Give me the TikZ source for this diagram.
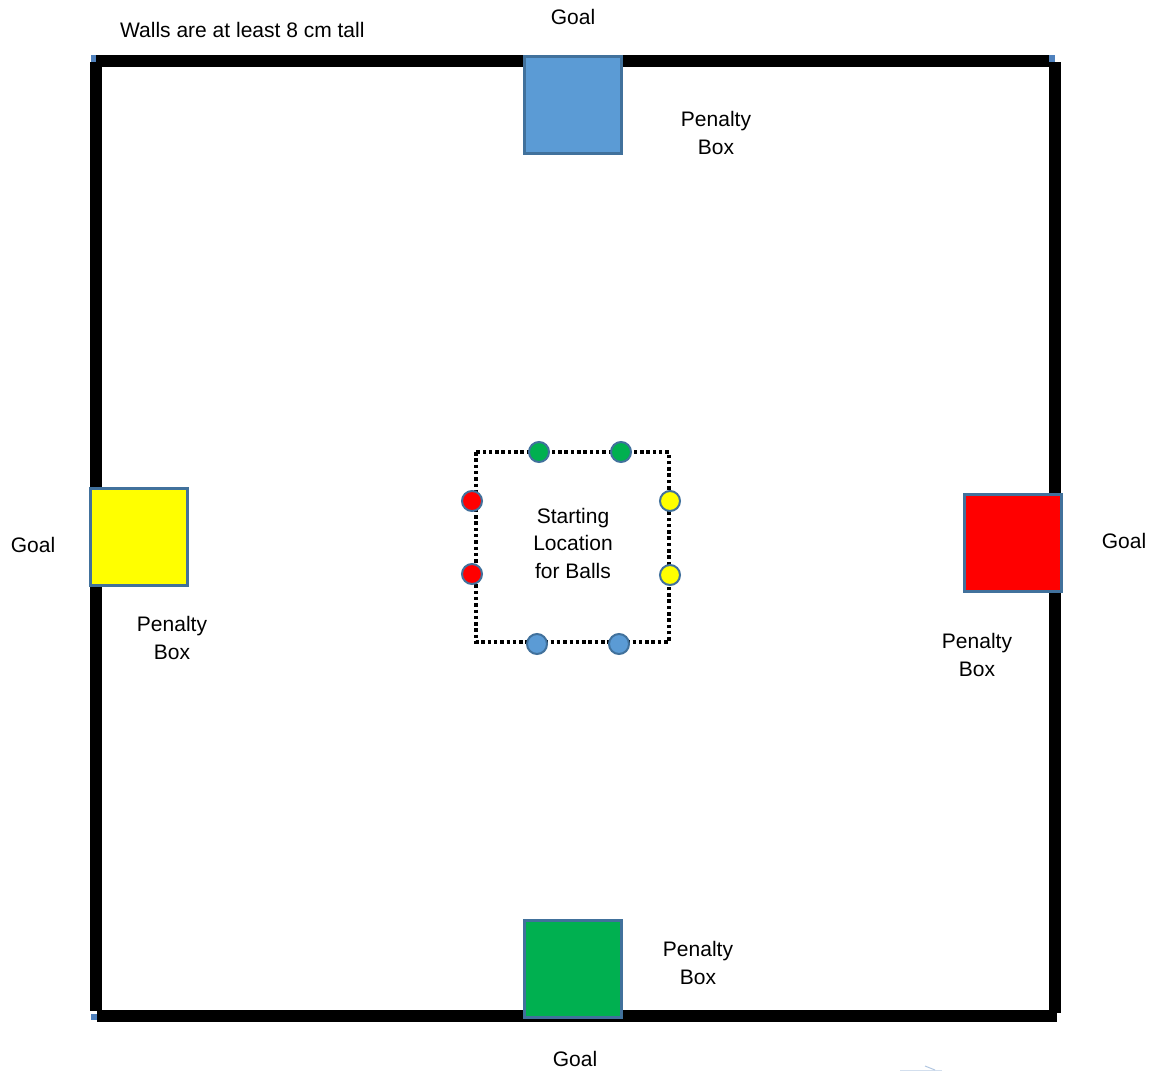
\documentclass[tikz,border=0pt]{standalone}
\usepackage{fontspec}
\setmainfont{Liberation Sans}
\begin{document}
\begin{tikzpicture}[x=1pt,y=-1pt,
  wall/.style={line width=11.5pt, black},
  corner/.style={fill=cornerblue, draw=none},
  goalbox/.style={draw=edgeblue, line width=3pt, minimum width=97pt, minimum height=97pt, inner sep=0pt},
  ball/.style={circle, draw=edgeblue, line width=2pt, minimum size=20pt, inner sep=0pt},
  lbl/.style={font=\fontsize{21}{27.5}\selectfont, align=center, inner sep=0pt, anchor=base},
  startzone/.style={draw=black, line width=3.3pt, dash pattern=on 3.5pt off 2.8pt}
]
\definecolor{edgeblue}{HTML}{41719C}
\definecolor{cornerblue}{HTML}{4F81BD}
\definecolor{pbblue}{HTML}{5B9BD5}
\definecolor{pbred}{HTML}{FF0000}
\definecolor{pbyellow}{HTML}{FFFF00}
\definecolor{pbgreen}{HTML}{00B050}
\useasboundingbox[fill=white] (0,0) rectangle (1151,1071);

% corner marks
\fill[corner] (91,55) rectangle (96,62);
\fill[corner] (1049,55) rectangle (1055,62);
\fill[corner] (91,1014) rectangle (97,1020);

% walls
\draw[wall] (96,61) -- (1049,61);
\draw[wall] (96,62) -- (96,1011);
\draw[wall] (1055,62) -- (1055,1013);
\draw[wall] (97,1016) -- (1057,1016);

% goal boxes (penalty boxes)
\node[goalbox, fill=pbblue] (gtop) at (572.5,105) {};
\node[goalbox, fill=pbyellow] (gleft) at (139,536.5) {};
\node[goalbox, fill=pbred] (gright) at (1013,542.5) {};
\node[goalbox, fill=pbgreen] (gbottom) at (572.5,968.5) {};

% starting zone
\coordinate (s1) at (476,452);
\coordinate (s2) at (669,642);
\draw[startzone] (s1) rectangle (s2);

% balls
\node[ball, fill=pbgreen] (bg1) at (539,452) {};
\node[ball, fill=pbgreen] (bg2) at (621,452) {};
\node[ball, fill=pbred] (br1) at (472,501) {};
\node[ball, fill=pbred] (br2) at (472,574) {};
\node[ball, fill=pbyellow] (by1) at (670,501) {};
\node[ball, fill=pbyellow] (by2) at (670,575) {};
\node[ball, fill=pbblue] (bb1) at (537,644) {};
\node[ball, fill=pbblue] (bb2) at (619,644) {};

% labels (base anchor = baseline of the last line)
\node[lbl, anchor=base west] (walls) at (120,37) {Walls are at least 8 cm tall};
\node[lbl] (goaltop) at (573,24) {Goal};
\node[lbl] (goalleft) at (33,552) {Goal};
\node[lbl] (goalright) at (1124,548) {Goal};
\node[lbl] (goalbottom) at (575,1066) {Goal};
\node[lbl] (pbtop) at (716,154) {Penalty\\Box};
\node[lbl] (pbleft) at (172,659) {Penalty\\Box};
\node[lbl] (pbright) at (977,676) {Penalty\\Box};
\node[lbl] (pbbottom) at (698,984) {Penalty\\Box};
\node[lbl] (start) at (573,578) {Starting\\Location\\for Balls};

% faint mark at bottom
\draw[cornerblue!25, line width=1pt] (900,1070) -- (942,1070);
\draw[cornerblue!45, line width=1pt] (925,1066) -- (935,1070);
\end{tikzpicture}
\end{document}
